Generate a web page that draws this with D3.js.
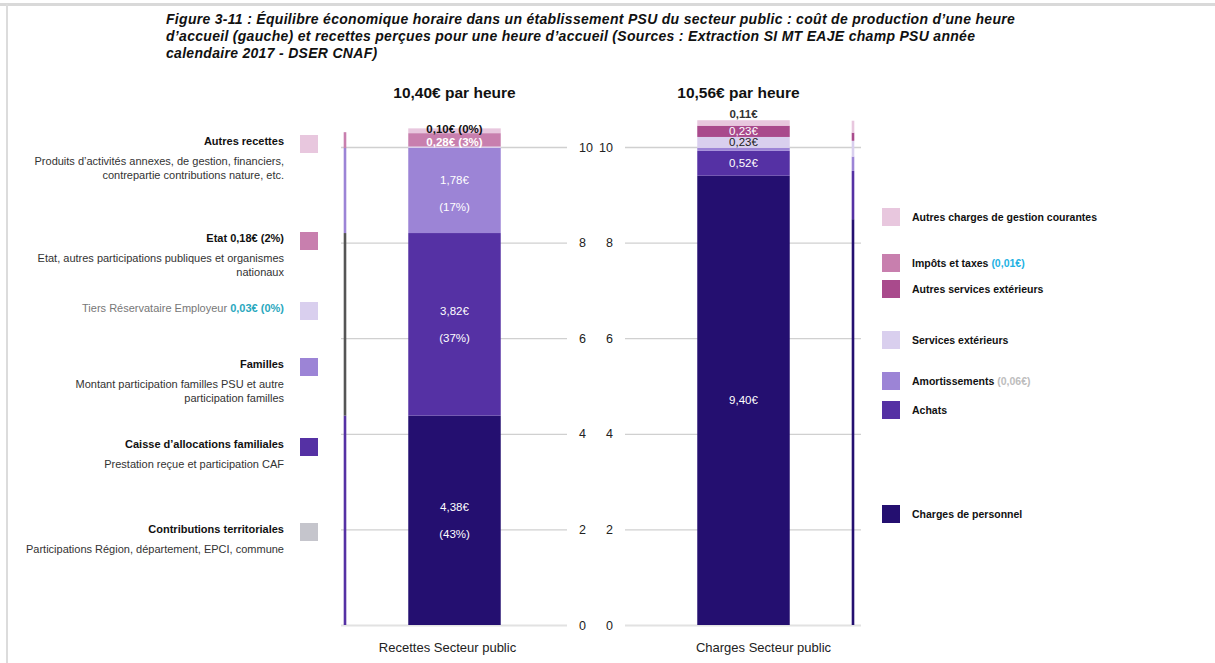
<!DOCTYPE html>
<html><head><meta charset="utf-8">
<script src="https://cdn.jsdelivr.net/npm/d3@7"></script>
<style>
body{margin:0;background:#fff;}
svg{display:block;font-family:"Liberation Sans",Arial,sans-serif;}
</style></head>
<body><svg id="c" width="1215" height="663"></svg>
<script>
// ---------- DATA ----------
const titleLines = [
  "Figure 3-11 : Équilibre économique horaire dans un établissement PSU du secteur public : coût de production d’une heure",
  "d’accueil (gauche) et recettes perçues pour une heure d’accueil (Sources : Extraction SI MT EAJE champ PSU année",
  "calendaire 2017 - DSER CNAF)"
];
const categories = ["Recettes Secteur public", "Charges Secteur public"];
const totalLabels = ["10,40€ par heure", "10,56€ par heure"];
const yTicks = [0, 2, 4, 6, 8, 10];

// main bar: recettes (bottom -> top)
const recettesValues = [4.38, 3.82, 1.78, 0.03, 0.28, 0.10];
const recettesLabels = [["4,38€", "(43%)"], ["3,82€", "(37%)"], ["1,78€", "(17%)"], [], ["0,28€ (3%)"], ["0,10€ (0%)"]];
// main bar: charges (bottom -> top)
const chargesNames = ["Charges de personnel", "Achats", "Amortissements", "Services extérieurs",
  "Autres services extérieurs", "Impôts et taxes", "Autres charges de gestion courantes"];
const chargesValues = [9.40, 0.52, 0.06, 0.23, 0.23, 0.01, 0.11];
const chargesLabels = [["9,40€"], ["0,52€"], [], ["0,23€"], ["0,23€"], [], ["0,11€"]];

// thin side bars
const recettesThinValues = [4.38, 3.82, 1.78, 0.33];
const chargesThinValues = [8.49, 1.01, 0.30, 0.33, 0.17, 0.25];

// legends
const leftLegendTitles = ["Autres recettes", "Etat 0,18€ (2%)", "Tiers Réservataire Employeur ", "Familles",
  "Caisse d’allocations familiales", "Contributions territoriales"];
const leftLegendExtra = ["", "", "0,03€ (0%)", "", "", ""];
const leftLegendDesc = [
  ["Produits d’activités annexes, de gestion, financiers,", "contrepartie contributions nature, etc."],
  ["Etat, autres participations publiques et organismes", "nationaux"],
  [],
  ["Montant participation familles PSU et autre", "participation familles"],
  ["Prestation reçue et participation CAF"],
  ["Participations Région, département, EPCI, commune"]
];
const rightLegendNames = ["Autres charges de gestion courantes", "Impôts et taxes ", "Autres services extérieurs",
  "Services extérieurs", "Amortissements ", "Achats", "Charges de personnel"];
const rightLegendExtra = ["", "(0,01€)", "", "", "(0,06€)", "", ""];

// ---------- STYLE ----------
const C = {
  navy: "#240f70", purple: "#5531a4", lightPurple: "#9c84d6", lavender: "#d9cfee",
  pink: "#c87fae", magenta: "#a94a8c", lightPink: "#e8c7de", grey: "#c5c5cc", darkGrey: "#555555"
};
const recettesColors = [C.navy, C.purple, C.lightPurple, C.lavender, C.pink, C.lightPink];
const recettesLabelColors = ["#fff", "#fff", "#fff", "#222", "#fff", "#111"];
const recettesLabelBold = [false, false, false, false, true, true];
const recettesLabelShift = [0, 0, 3, 0, 2.5, 0];
const recettesLabelTop = [false, false, false, false, false, true];
const chargesColors = [C.navy, C.purple, C.lightPurple, C.lavender, C.magenta, C.pink, C.lightPink];
const chargesLabelColors = ["#fff", "#fff", "#222", "#222", "#fff", "#222", "#333"];
const chargesLabelBold = [false, false, false, false, false, false, true];
const chargesLabelShift = [0, 0, 0, 0, 0, 0, 0];
const chargesLabelTop = [false, false, false, false, false, false, true];
const recettesThinColors = [C.purple, C.darkGrey, C.lightPurple, C.pink];
const chargesThinColors = [C.navy, C.purple, C.lightPurple, C.lavender, C.magenta, C.lightPink];
const leftLegendColors = [C.lightPink, C.pink, C.lavender, C.lightPurple, C.purple, C.grey];
const rightLegendColors = [C.lightPink, C.pink, C.magenta, C.lavender, C.lightPurple, C.purple, C.navy];
const rightLegendExtraColors = ["", "#23b2e3", "", "", "#bdbdbd", "", ""];
const leftLegendY = [135, 232, 302, 358, 438, 523];
const rightLegendY = [208, 254, 280, 331, 372, 401, 505];

// ---------- LAYOUT ----------
const svg = d3.select("#c");
const y = d3.scaleLinear().domain([0, 10]).range([625, 147]);
const x = d3.scaleBand().domain(categories).range([310, 888]).paddingInner(0.68).paddingOuter(0.34);
const leftPlot = [341, 567], rightPlot = [625, 861];

// frame
svg.append("line").attr("x1", 0).attr("x2", 1215).attr("y1", 4.5).attr("y2", 4.5).attr("stroke", "#d9d9d9").attr("stroke-width", 3);
svg.append("line").attr("x1", 7).attr("x2", 7).attr("y1", 4).attr("y2", 663).attr("stroke", "#dcdcdc").attr("stroke-width", 2);

// title
const tt = svg.append("text").attr("font-weight", "bold").attr("font-style", "italic")
  .attr("font-size", 14).attr("fill", "#111").attr("letter-spacing", 0.3);
titleLines.forEach((t, i) => tt.append("tspan").attr("x", 166).attr("y", 24 + i * 17).text(t));

// axes / gridlines
const axL = svg.append("g").attr("transform", `translate(${leftPlot[1]},0)`)
  .call(d3.axisRight(y).tickValues(yTicks).tickSizeInner(-(leftPlot[1] - leftPlot[0])).tickSizeOuter(0).tickPadding(12));
const axR = svg.append("g").attr("transform", `translate(${rightPlot[0]},0)`)
  .call(d3.axisLeft(y).tickValues(yTicks).tickSizeInner(-(rightPlot[1] - rightPlot[0])).tickSizeOuter(0).tickPadding(12));
[axL, axR].forEach(a => {
  a.select(".domain").remove();
  a.selectAll(".tick line").attr("stroke", "#d0d0d0").attr("stroke-width", 1.3);
  a.selectAll(".tick text").attr("font-size", 12.5).attr("fill", "#222").attr("font-family", "Liberation Sans, Arial, sans-serif");
  a.selectAll(".tick").filter(d => d === 0).select("line").attr("stroke", "#e2e2e2").attr("stroke-width", 2);
});

function stack(vals) { let s = 0; return vals.map(v => { const o = [s, s + v]; s += v; return o; }); }

function drawBar(cat, vals, colors) {
  const st = stack(vals);
  svg.append("g").selectAll("rect").data(st).join("rect")
    .attr("x", x(cat)).attr("width", x.bandwidth())
    .attr("y", d => y(d[1])).attr("height", d => y(d[0]) - y(d[1]))
    .attr("fill", (d, i) => colors[i]);
  return st;
}
function drawThin(cx, vals, colors) {
  const st = stack(vals);
  svg.append("g").selectAll("rect").data(st).join("rect")
    .attr("x", cx - 1.3).attr("width", 2.6)
    .attr("y", d => y(d[1])).attr("height", d => y(d[0]) - y(d[1]))
    .attr("fill", (d, i) => colors[i]);
}

const stR = drawBar(categories[0], recettesValues, recettesColors);
const stC = drawBar(categories[1], chargesValues, chargesColors);
drawThin(leftPlot[0] + 4, recettesThinValues, recettesThinColors);
drawThin(rightPlot[1] - 8, chargesThinValues, chargesThinColors);

// segment labels
function labels(cat, st, labs, colors, bold, shift, top, topOffset) {
  const cx = x(cat) + x.bandwidth() / 2;
  st.forEach((d, i) => {
    const L = labs[i]; if (!L.length) return;
    let cy = (y(d[0]) + y(d[1])) / 2 + shift[i];
    if (top[i]) cy = y(d[1]) + topOffset;
    const gap = 27;
    L.forEach((t, j) => {
      svg.append("text").attr("x", cx).attr("y", cy + (j - (L.length - 1) / 2) * gap)
        .attr("dy", "0.35em").attr("text-anchor", "middle").attr("font-size", 11.5)
        .attr("font-weight", bold[i] ? "bold" : "normal")
        .attr("fill", colors[i]).text(t);
    });
  });
}
labels(categories[0], stR, recettesLabels, recettesLabelColors, recettesLabelBold, recettesLabelShift, recettesLabelTop, 1);
labels(categories[1], stC, chargesLabels, chargesLabelColors, chargesLabelBold, chargesLabelShift, chargesLabelTop, -6);

// totals headers
const headerX = [x(categories[0]) + x.bandwidth() / 2, x(categories[1]) + x.bandwidth() / 2 - 5];
totalLabels.forEach((t, i) => svg.append("text").attr("x", headerX[i]).attr("y", 98)
  .attr("text-anchor", "middle").attr("font-size", 15.5).attr("font-weight", "bold").attr("fill", "#111").text(t));

// category labels
const catX = [x(categories[0]) + x.bandwidth() / 2 - 7, x(categories[1]) + x.bandwidth() / 2 + 20];
categories.forEach((t, i) => svg.append("text").attr("x", catX[i]).attr("y", 652)
  .attr("text-anchor", "middle").attr("font-size", 13).attr("fill", "#222").text(t));

// left legend
leftLegendTitles.forEach((t, i) => {
  const y0 = leftLegendY[i];
  svg.append("rect").attr("x", 300).attr("y", y0).attr("width", 18).attr("height", 18).attr("fill", leftLegendColors[i]);
  const isTiers = leftLegendExtra[i] !== "";
  const tx = svg.append("text").attr("x", 284).attr("y", y0 + 10)
    .attr("text-anchor", "end").attr("font-size", 11);
  tx.append("tspan").attr("font-weight", isTiers ? "normal" : "bold").attr("fill", isTiers ? "#777" : "#111").text(t);
  if (isTiers) tx.append("tspan").attr("font-weight", "bold").attr("fill", "#2aa8be").text(leftLegendExtra[i]);
  leftLegendDesc[i].forEach((d, j) => svg.append("text").attr("x", 284).attr("y", y0 + 30 + j * 13.5)
    .attr("text-anchor", "end").attr("font-size", 11).attr("fill", "#333").text(d));
});

// right legend
rightLegendNames.forEach((t, i) => {
  const y0 = rightLegendY[i];
  svg.append("rect").attr("x", 882).attr("y", y0).attr("width", 18).attr("height", 18).attr("fill", rightLegendColors[i]);
  const tx = svg.append("text").attr("x", 912).attr("y", y0 + 12.5).attr("font-size", 10.5)
    .attr("font-weight", "bold");
  tx.append("tspan").attr("fill", "#111").text(t);
  if (rightLegendExtra[i]) tx.append("tspan").attr("fill", rightLegendExtraColors[i]).text(rightLegendExtra[i]);
});
</script></body></html>
